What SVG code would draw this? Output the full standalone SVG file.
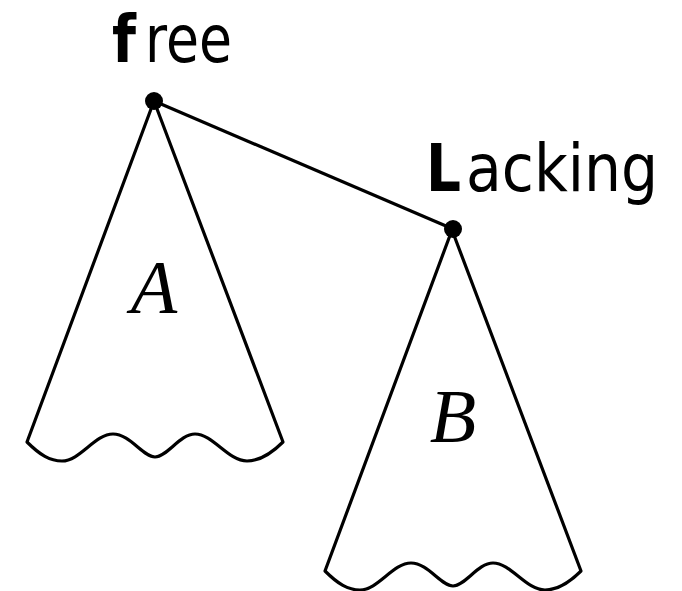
<svg xmlns="http://www.w3.org/2000/svg" xmlns:xlink="http://www.w3.org/1999/xlink" width="682" height="591" viewBox="0 0 682 591">
<style>
.tri{fill:none;stroke:#000;stroke-width:3.2;stroke-linejoin:round}
.lbl{font-family:"DejaVu Sans","Liberation Sans",sans-serif;font-size:66px;fill:#000}
.b{font-weight:bold}
.var{font-family:"Liberation Serif",serif;font-style:italic;font-size:76px;fill:#000;text-anchor:middle}
.edge{stroke:#000;stroke-width:3.2}
</style>
<defs>
<path id="tree" class="tri" d="M154,101 L27,442 C40,455 50,461 62,461 C80,461 95,434 113,434 C130,434 143,457 155,457 C167,457 180,434 195,434 C213,434 228,461 247,461 C259,461 270,455 283,442 Z"/>
</defs>
<rect width="682" height="591" fill="#fff"/>
<g id="connectors">
<line class="edge" x1="154" y1="101" x2="453" y2="229"/>
</g>
<g id="nodeA">
<use xlink:href="#tree"/>
<text class="var" x="154" y="313">A</text>
</g>
<g id="nodeB">
<use xlink:href="#tree" transform="translate(298,129)"/>
<text class="var" x="453" y="442">B</text>
</g>
<g id="free">
<circle cx="154" cy="101" r="9" fill="#000"/>
<text class="lbl b" x="112" y="62" textLength="24" lengthAdjust="spacingAndGlyphs">f</text>
<text class="lbl" x="145" y="62" textLength="87" lengthAdjust="spacingAndGlyphs">ree</text>
</g>
<g id="lacking">
<circle cx="453" cy="229" r="9" fill="#000"/>
<text class="lbl b" x="426" y="191" textLength="35" lengthAdjust="spacingAndGlyphs">L</text>
<text class="lbl" x="466" y="191" textLength="192" lengthAdjust="spacingAndGlyphs">acking</text>
</g>
</svg>
